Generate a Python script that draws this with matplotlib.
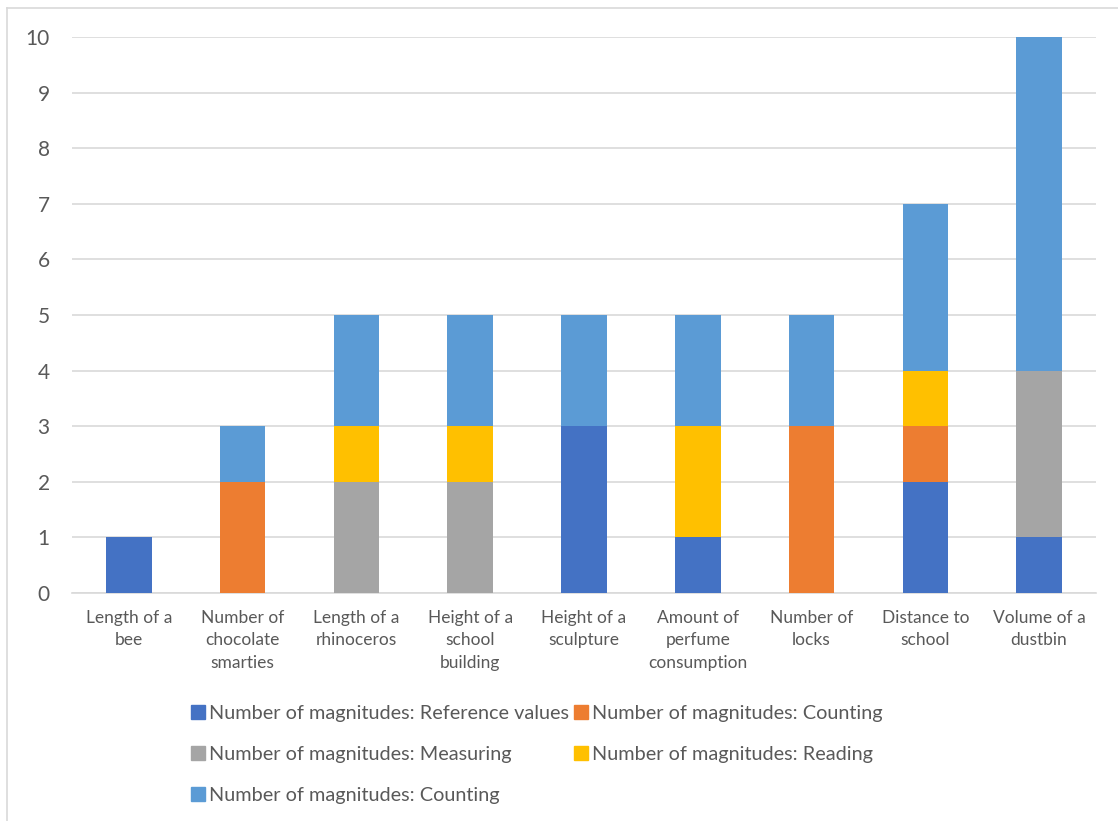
import numpy as np
import matplotlib.pyplot as plt
from matplotlib.lines import Line2D

plt.rcParams['font.family'] = ['Lato', 'DejaVu Sans']

categories = ['Length of a\nbee', 'Number of\nchocolate\nsmarties', 'Length of a\nrhinoceros',
              'Height of a\nschool\nbuilding', 'Height of a\nsculpture', 'Amount of\nperfume\nconsumption',
              'Number of\nlocks', 'Distance to\nschool', 'Volume of a\ndustbin']
series_names = ['Number of magnitudes: Reference values', 'Number of magnitudes: Counting',
                'Number of magnitudes: Measuring', 'Number of magnitudes: Reading',
                'Number of magnitudes: Counting']
reference = [1, 0, 0, 0, 3, 1, 0, 2, 1]
counting = [0, 2, 0, 0, 0, 0, 3, 1, 0]
measuring = [0, 0, 2, 2, 0, 0, 0, 0, 3]
reading = [0, 0, 1, 1, 0, 2, 0, 1, 0]
counting2 = [0, 1, 2, 2, 2, 2, 2, 3, 6]
colors = ['#4472C4', '#ED7D31', '#A5A5A5', '#FFC000', '#5B9BD5']

fig = plt.figure(figsize=(11.18, 8.21), dpi=100)
ax = fig.add_axes([0.0644, 0.2777, 0.9159, 0.6772])

x = np.arange(len(categories))
bottom = np.zeros(len(categories))
for vals, c in zip([reference, counting, measuring, reading, counting2], colors):
    ax.bar(x, vals, 0.4, bottom=bottom, color=c, zorder=3)
    bottom += np.array(vals)

ax.set_xlim(-0.5, len(categories) - 0.5)
ax.set_ylim(0, 10)
ax.set_yticks(range(11))
ax.yaxis.grid(True, color='#D9D9D9', linewidth=1.2, zorder=0)
for s in ['top', 'right', 'left']:
    ax.spines[s].set_visible(False)
ax.spines['bottom'].set_color('#D9D9D9')
ax.spines['bottom'].set_linewidth(1.2)
ax.set_xticks(x)
ax.set_xticklabels(categories, fontsize=12.5, color='#595959', linespacing=1.5)
ax.tick_params(axis='x', length=0, pad=12)
ax.tick_params(axis='y', length=0, labelsize=15, labelcolor='#595959', pad=16)

# legend fills column-first, so reorder to read row by row
order = [0, 2, 4, 1, 3]
handles = [Line2D([], [], marker='s', linestyle='none', markersize=10, color=colors[i]) for i in order]
labels = [series_names[i] for i in order]
leg = fig.legend(handles, labels, loc='upper left', bbox_to_anchor=(0.152, 0.163),
                 ncol=2, frameon=False, fontsize=14.3, labelcolor='#595959',
                 handletextpad=0.05, columnspacing=0.1, labelspacing=1.2, handlelength=1.0)

# chart area border (left and top only visible)
fig.add_artist(Line2D([0.0066, 0.0066], [0, 0.99], transform=fig.transFigure, color='#D9D9D9', linewidth=1.2))
fig.add_artist(Line2D([0.0066, 1.0], [0.99, 0.99], transform=fig.transFigure, color='#D9D9D9', linewidth=1.2))

fig.savefig('out.png', dpi=100)
